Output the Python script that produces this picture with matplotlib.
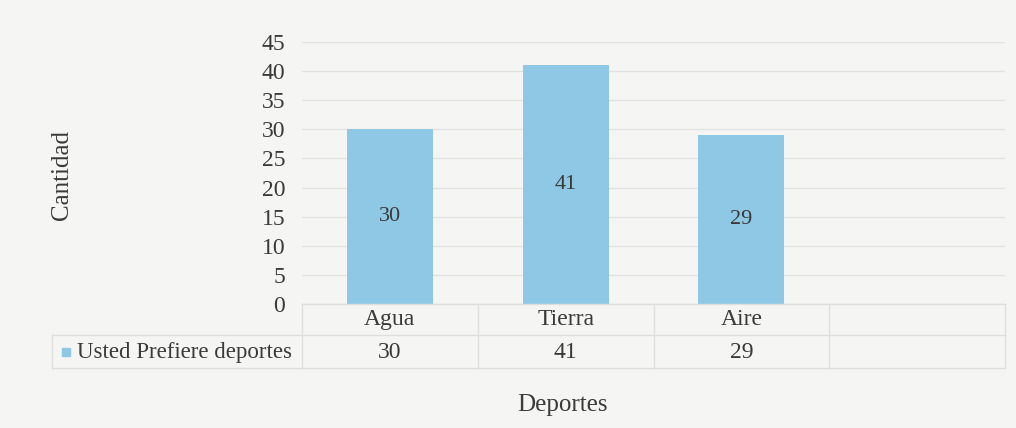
import matplotlib
matplotlib.use("Agg")
import matplotlib.pyplot as plt
from matplotlib.patches import Rectangle

# data
categories = ["Agua", "Tierra", "Aire", ""]
values = [30, 41, 29]
series_name = "Usted Prefiere deportes"
y_ticks = [0, 5, 10, 15, 20, 25, 30, 35, 40, 45]

bg = "#f5f5f4"
bar_color = "#8ec8e5"
grid_color = "#e2e2e2"
text_color = "#3a3a3a"

plt.rcParams["font.family"] = ["Liberation Serif", "DejaVu Serif"]

fig = plt.figure(figsize=(10.16, 4.28), dpi=100, facecolor=bg)
ax = fig.add_axes([302 / 1016, 1 - 304 / 428, 703 / 1016, 262 / 428])
ax.set_facecolor(bg)

ax.bar(range(len(values)), values, width=0.49, color=bar_color, zorder=2)
for i, v in enumerate(values):
    ax.text(i, v / 2, str(v), ha="center", va="center", fontsize=16,
            color=text_color, zorder=3)

ax.set_xlim(-0.5, len(categories) - 0.5)
ax.set_ylim(0, 45)
ax.set_yticks(y_ticks)
ax.set_yticklabels([str(t) for t in y_ticks], fontsize=17, color=text_color)
ax.tick_params(axis="y", length=0, pad=12)
ax.set_xticks([])
ax.grid(axis="y", color=grid_color, linewidth=1, zorder=0)
for s in ax.spines.values():
    s.set_visible(False)

# data table below the plot
row_h = 31 / 262
left = (52 - 302) / 703
trans = ax.transAxes
line_kw = dict(color="#dedede", linewidth=1, transform=trans, clip_on=False)
ax.plot([0, 1], [0, 0], **line_kw)
ax.plot([left, 1], [-row_h, -row_h], **line_kw)
ax.plot([left, 1], [-2.05 * row_h, -2.05 * row_h], **line_kw)
ax.plot([left, left], [-row_h, -2.05 * row_h], **line_kw)
n = len(categories)
for k in range(n + 1):
    ax.plot([k / n, k / n], [0, -2.05 * row_h], **line_kw)

for i, c in enumerate(categories):
    xc = (i + 0.5) / n
    ax.text(xc, -0.5 * row_h, c, transform=trans, ha="center", va="center",
            fontsize=17, color=text_color)
    if i < len(values):
        ax.text(xc, -1.55 * row_h, str(values[i]), transform=trans,
                ha="center", va="center", fontsize=17, color=text_color)

ax.add_patch(Rectangle((left + 0.014, -1.55 * row_h - 0.014), 0.011, 0.028,
                       transform=trans, color=bar_color, clip_on=False))
ax.text(left + 0.036, -1.55 * row_h, series_name, transform=trans,
        ha="left", va="center", fontsize=16.5, color=text_color)

fig.text(62 / 1016, 1 - 175 / 428, "Cantidad", rotation=90, ha="center",
         va="center", fontsize=18, color=text_color)
fig.text(562 / 1016, 1 - 405 / 428, "Deportes", ha="center", va="center",
         fontsize=18, color=text_color)

fig.savefig("out.png", dpi=100, facecolor=bg)
